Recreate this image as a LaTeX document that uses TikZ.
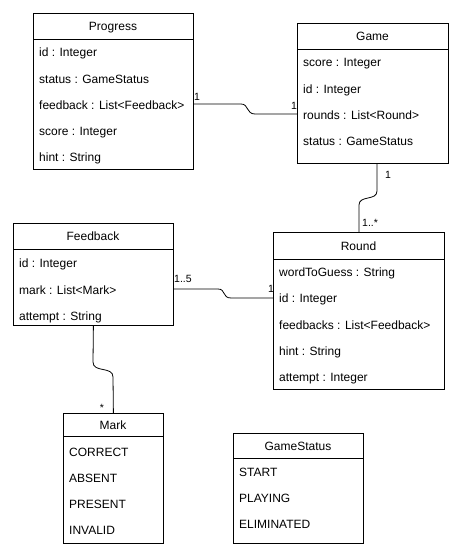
\documentclass[tikz,border=0pt]{standalone}
\usepackage{fontspec}
\setmainfont{Liberation Sans}
\begin{document}
\begin{tikzpicture}[x=1pt,y=-1pt,
 box/.style={draw, line width=0.8pt, inner sep=0pt, anchor=north west},
 ttl/.style={font=\fontsize{12}{14}\selectfont, inner sep=0pt, anchor=base, yshift=-4.5pt},
 attr/.style={font=\fontsize{12}{14}\selectfont, inner sep=0pt, anchor=base west, yshift=-4.5pt},
 lbl/.style={font=\fontsize{10.5}{12}\selectfont, inner sep=0pt},
 conn/.style={draw, line width=0.8pt}]
\useasboundingbox[fill=white] (0,0) rectangle (465,554);

% Progress
\node[box, minimum width=160pt, minimum height=156pt] (prog) at (33,13) {};
\draw[line width=0.8pt] ([yshift=-26pt]prog.north west) -- ([yshift=-26pt]prog.north east);
\node[ttl] (progT) at (113,26) {Progress};
\node[attr] (prog1) at (39,52) {id : Integer};
\node[attr] (prog2) at (39,79) {status : GameStatus};
\node[attr] (prog3) at (39,105) {feedback : List<Feedback>};
\node[attr] (prog4) at (39,131) {score : Integer};
\node[attr] (prog5) at (39,157) {hint : String};

% Game
\node[box, minimum width=151pt, minimum height=140pt] (game) at (297,23) {};
\draw[line width=0.8pt] ([yshift=-26pt]game.north west) -- ([yshift=-26pt]game.north east);
\node[ttl] (gameT) at (372.5,36) {Game};
\node[attr] (game1) at (303,62) {score : Integer};
\node[attr] (game2) at (303,89) {id : Integer};
\node[attr] (game3) at (303,115) {rounds : List<Round>};
\node[attr] (game4) at (303,141) {status : GameStatus};

% Feedback
\node[box, minimum width=160pt, minimum height=102pt] (fb) at (13,223) {};
\draw[line width=0.8pt] ([yshift=-26pt]fb.north west) -- ([yshift=-26pt]fb.north east);
\node[ttl] (fbT) at (93,236) {Feedback};
\node[attr] (fb1) at (19,263) {id : Integer};
\node[attr] (fb2) at (19,290) {mark : List<Mark>};
\node[attr] (fb3) at (19,316) {attempt : String};

% Round
\node[box, minimum width=171pt, minimum height=157pt] (round) at (273,232) {};
\draw[line width=0.8pt] ([yshift=-27pt]round.north west) -- ([yshift=-27pt]round.north east);
\node[ttl] (roundT) at (358.5,246) {Round};
\node[attr] (round1) at (279,272) {wordToGuess : String};
\node[attr] (round2) at (279,298) {id : Integer};
\node[attr] (round3) at (279,325) {feedbacks : List<Feedback>};
\node[attr] (round4) at (279,351) {hint : String};
\node[attr] (round5) at (279,377) {attempt : Integer};

% Mark
\node[box, minimum width=100pt, minimum height=130pt] (mark) at (63,413) {};
\draw[line width=0.8pt] ([yshift=-23pt]mark.north west) -- ([yshift=-23pt]mark.north east);
\node[ttl] (markT) at (113,425) {Mark};
\node[attr] (mark1) at (69,452) {CORRECT};
\node[attr] (mark2) at (69,478) {ABSENT};
\node[attr] (mark3) at (69,504) {PRESENT};
\node[attr] (mark4) at (69,530) {INVALID};

% GameStatus
\node[box, minimum width=130pt, minimum height=110pt] (gs) at (233,433) {};
\draw[line width=0.8pt] ([yshift=-25pt]gs.north west) -- ([yshift=-25pt]gs.north east);
\node[ttl] (gsT) at (298,446) {GameStatus};
\node[attr] (gs1) at (239,472) {START};
\node[attr] (gs2) at (239,498) {PLAYING};
\node[attr] (gs3) at (239,524) {ELIMINATED};

% connectors
\coordinate (pgA) at (prog.east |- 0,104);
\coordinate (pgB) at (game.west |- 0,114);
\draw[conn] (pgA) -- (241,104) .. controls (249,104) and (246,114) .. (255,114) -- (pgB);
\node[lbl] (pgL1) at (197,97) {1};
\node[lbl] (pgL2) at (294,106) {1};

\coordinate (grA) at (377,163);
\coordinate (grB) at (round.north);
\draw[conn] (grA) -- (377,191) .. controls (377,201) and (359,195) .. (359,205) -- (grB);
\node[lbl] (grL1) at (388,175) {1};
\node[lbl, anchor=west] (grL2) at (362,223) {1..*};

\coordinate (frA) at (fb.east |- 0,289);
\coordinate (frB) at (round.west |- 0,298);
\draw[conn] (frA) -- (218,289) .. controls (226,289) and (222,298) .. (231,298) -- (frB);
\node[lbl, anchor=west] (frL1) at (174,279) {1..5};
\node[lbl] (frL2) at (271,289) {1};

\coordinate (fmA) at (fb.south);
\coordinate (fmB) at (mark.north);
\draw[conn] (fmA) -- (93,362) .. controls (93,373) and (113,366) .. (113,377) -- (fmB);
\node[lbl] (fmL) at (102,408) {*};
\end{tikzpicture}
\end{document}
